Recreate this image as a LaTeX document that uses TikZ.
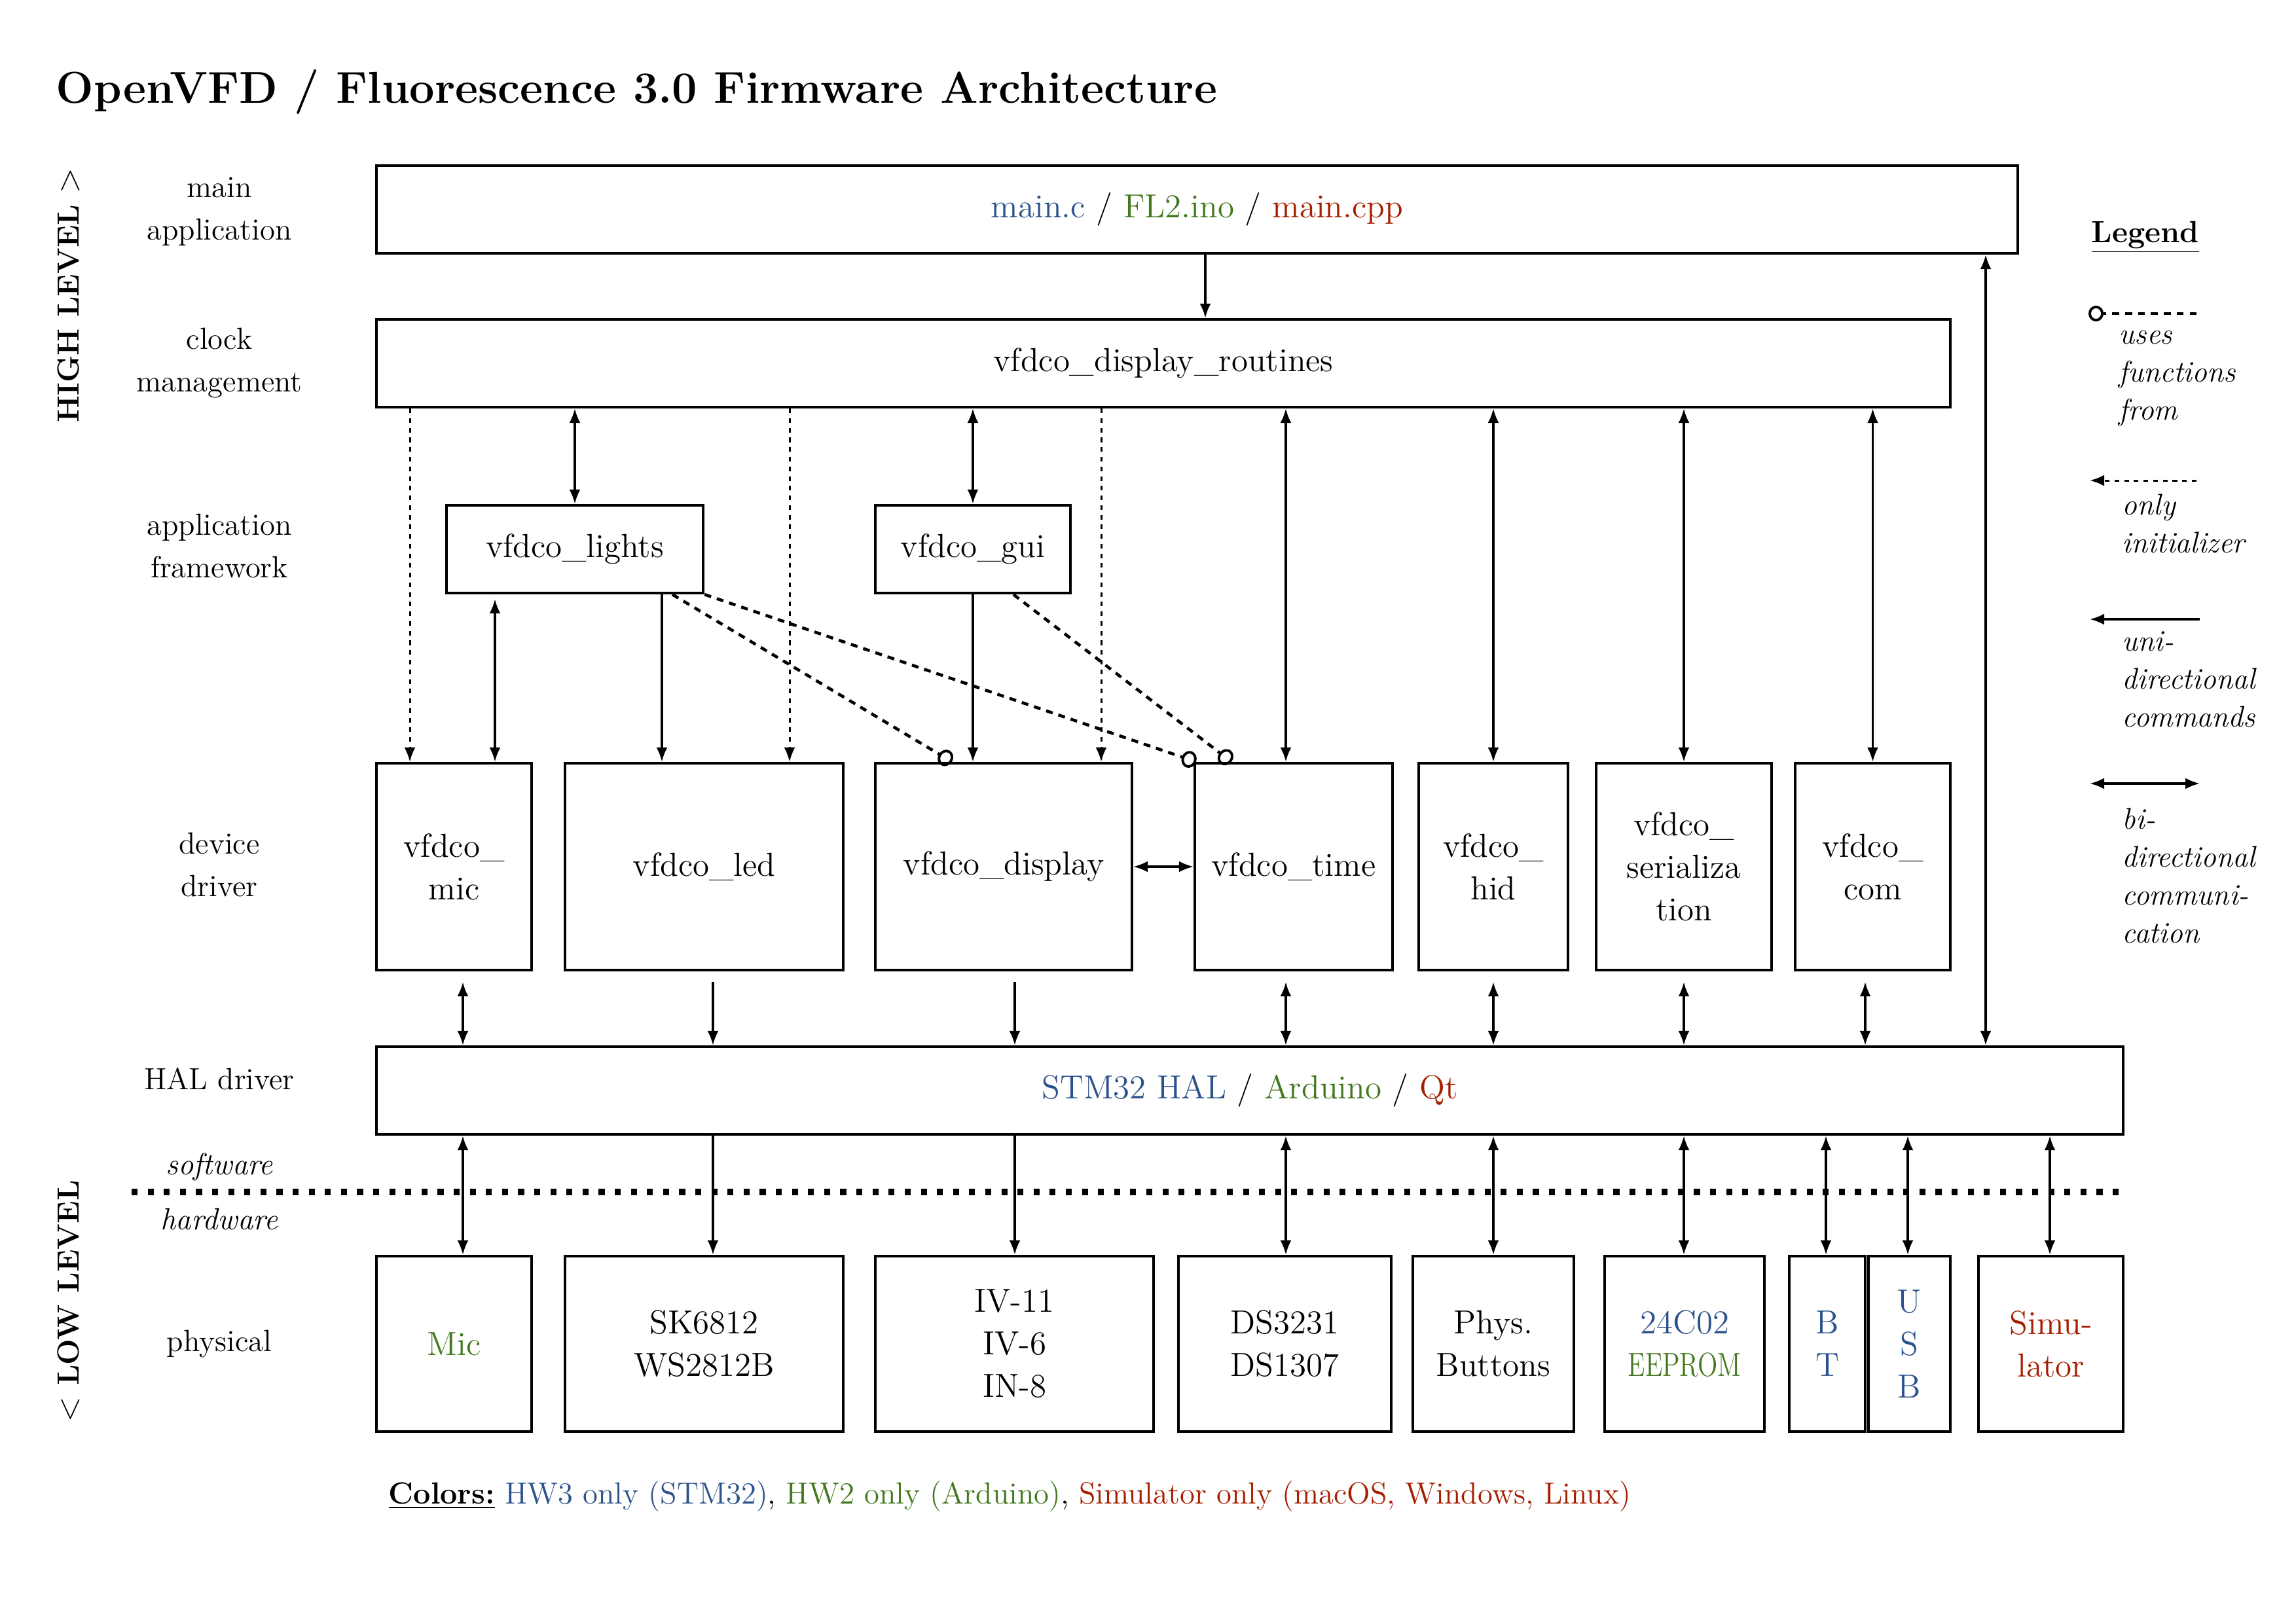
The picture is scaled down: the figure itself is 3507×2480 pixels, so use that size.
\documentclass[tikz,border=0pt]{standalone}
\usepackage{graphicx}
\usetikzlibrary{arrows.meta,calc}
\definecolor{hwthree}{RGB}{44,82,140}
\definecolor{hwtwo}{RGB}{66,120,30}
\definecolor{simred}{RGB}{165,30,0}
\begin{document}
\begin{tikzpicture}[x=0.1mm,y=-0.1mm,
  execute at begin picture={\fontsize{13.3}{18.5}\selectfont},
  box/.style={draw, line width=1.25pt, inner sep=0pt, align=center, font=\fontsize{14.5}{18.5}\selectfont},
  hbox/.style={box, minimum height=13.4mm},
  dbox/.style={box, minimum height=31.6mm},
  pbox/.style={box, minimum height=26.8mm},
  conn/.style={line width=0.9pt},
  tip/.tip={Latex[length=2.2mm,width=1.7mm]},
  uni/.style={conn, -tip},
  bi/.style={conn, tip-tip},
  init/.style={line width=0.85pt, dash pattern=on 2pt off 2.2pt, -tip},
  uses/.style={line width=1.3pt, dash pattern=on 3pt off 2.6pt, -{Circle[open,length=2.3mm,width=2.6mm,line width=1.1pt]}},
  lbl/.style={align=center},
  leg/.style={align=left, font=\fontsize{13}{16.5}\selectfont\itshape, anchor=north west, inner sep=0pt},
  sepline/.style={line width=2.6pt, dash pattern=on 2.6pt off 4.4pt},
]
\useasboundingbox (0,0) rectangle (3507,2480);

% title
\node[anchor=west, inner sep=0pt, font=\fontsize{19.4}{23}\selectfont\bfseries] (title) at (85,140) {OpenVFD / Fluorescence 3.0 Firmware Architecture};

% level labels
\node[rotate=90, font=\bfseries] (high) at (105,451) {HIGH LEVEL $>$};
\node[rotate=90, font=\bfseries] (low) at (105,1988) {$<$ LOW LEVEL};

% left labels
\node[lbl] (lmain) at (335,323) {main\\application};
\node[lbl] (lclock) at (335,555) {clock\\management};
\node[lbl] (lapp) at (335,834) {application\\framework};
\node[lbl] (ldev) at (335,1321) {device\\driver};
\node[lbl] (lhal) at (335,1648) {HAL driver};
\node[lbl, font=\itshape] (lsw) at (335,1783) {software};
\node[lbl, font=\itshape] (lhw) at (335,1862) {hardware};
\node[lbl] (lphys) at (335,2053) {physical};

% boxes
\node[hbox, minimum width=250.7mm] (main) at (1828.5,320) {\textcolor{hwthree}{main.c} / \textcolor{hwtwo}{FL2.ino} / \textcolor{simred}{main.cpp}};
\node[hbox, minimum width=240.4mm] (routines) at (1777,555) {vfdco\_display\_routines};
\node[hbox, minimum width=39.2mm] (lights) at (878,839) {vfdco\_lights};
\node[hbox, minimum width=29.8mm] (gui) at (1486,839) {vfdco\_gui};

\node[dbox, minimum width=23.7mm] (mic) at (693.5,1324) {vfdco\_\\mic};
\node[dbox, minimum width=42.5mm] (led) at (1075.5,1324) {vfdco\_led};
\node[dbox, minimum width=39.2mm] (display) at (1533,1324) {vfdco\_display};
\node[dbox, minimum width=30.2mm] (time) at (1976,1324) {vfdco\_time};
\node[dbox, minimum width=22.8mm] (hid) at (2281,1324) {vfdco\_\\hid};
\node[dbox, minimum width=26.8mm] (serial) at (2572,1324) {vfdco\_\\serializa\\tion};
\node[dbox, minimum width=23.7mm] (com) at (2860.5,1324) {vfdco\_\\com};

\node[hbox, minimum width=266.8mm] (hal) at (1909,1666) {\textcolor{hwthree}{STM32 HAL} / \textcolor{hwtwo}{Arduino} / \textcolor{simred}{Qt}};

\node[pbox, minimum width=23.7mm, text=hwtwo] (pmic) at (693.5,2053) {Mic};
\node[pbox, minimum width=42.5mm] (psk) at (1075.5,2053) {SK6812\\WS2812B};
\node[pbox, minimum width=42.5mm] (piv) at (1549.5,2053) {IV-11\\IV-6\\IN-8};
\node[pbox, minimum width=32.5mm] (pds) at (1962.5,2053) {DS3231\\DS1307};
\node[pbox, minimum width=24.6mm] (pbtn) at (2281,2053) {Phys.\\Buttons};
\node[pbox, minimum width=24.4mm] (peep) at (2573,2053) {\textcolor{hwthree}{24C02}\\\textcolor{hwtwo}{\scalebox{0.78}[1]{EEPROM}}};
\node[pbox, minimum width=11.6mm, text=hwthree] (pbt) at (2791,2053) {B\\T};
\node[pbox, minimum width=12.5mm, text=hwthree] (pusb) at (2916.5,2053) {U\\S\\B};
\node[pbox, minimum width=22.1mm, text=simred] (psim) at (3132.5,2053) {Simu-\\lator};

% column coordinates
\coordinate (xmr) at (1841,0);
\coordinate (xmh) at (3033,0);
\coordinate (xa) at (626,0);
\coordinate (xb) at (1206,0);
\coordinate (xc) at (1682,0);
\coordinate (xt) at (1964,0);
\coordinate (xlm) at (756,0);
\coordinate (xll) at (1011,0);
\coordinate (x1) at (707,0);
\coordinate (x2) at (1089,0);
\coordinate (x3) at (1550,0);
\coordinate (x7) at (2849,0);
\coordinate (xbt) at (2789,0);
\coordinate (xusb) at (2914,0);
\coordinate (xsim) at (3131,0);
\coordinate (d1s) at (1027,0);
\coordinate (d1e) at (1454,0);
\coordinate (d2e) at (1827,0);
\coordinate (d3s) at (1548,0);
\coordinate (d3e) at (1881,0);

% main level
\draw[uni] (main.south -| xmr) -- (routines.north -| xmr);
\draw[bi] (main.south -| xmh) -- (hal.north -| xmh);

% routines to lower
\draw[init] (routines.south -| xa) -- (mic.north -| xa);
\draw[init] (routines.south -| xb) -- (led.north -| xb);
\draw[init] (routines.south -| xc) -- (display.north -| xc);
\draw[bi] (routines.south -| lights) -- (lights.north);
\draw[bi] (routines.south -| gui) -- (gui.north);
\draw[bi] (routines.south -| xt) -- (time.north -| xt);
\draw[bi] (routines.south -| hid) -- (hid.north);
\draw[bi] (routines.south -| serial) -- (serial.north);
\draw[bi] (routines.south -| com) -- (com.north);

% app framework to drivers
\draw[bi, shorten <=0.7mm] (lights.south -| xlm) -- (mic.north -| xlm);
\draw[uni] (lights.south -| xll) -- (led.north -| xll);
\draw[uni] (gui.south) -- (gui.south |- display.north);
\draw[bi] (display.east) -- (time.west);
\draw[uses] (lights.south -| d1s) -- (display.north -| d1e);
\draw[uses] (lights.south east) -- (time.north -| d2e);
\draw[uses] (gui.south -| d3s) -- (time.north -| d3e);

% drivers to HAL
\draw[bi, shorten <=1.6mm] (mic.south -| x1) -- (hal.north -| x1);
\draw[uni, shorten <=1.6mm] (led.south -| x2) -- (hal.north -| x2);
\draw[uni, shorten <=1.6mm] (display.south -| x3) -- (hal.north -| x3);
\draw[bi, shorten <=1.6mm] (time.south -| xt) -- (hal.north -| xt);
\draw[bi, shorten <=1.6mm] (hid.south) -- (hal.north -| hid);
\draw[bi, shorten <=1.6mm] (serial.south) -- (hal.north -| serial);
\draw[bi, shorten <=1.6mm] (com.south -| x7) -- (hal.north -| x7);

% HAL to physical
\draw[bi] (hal.south -| x1) -- (pmic.north -| x1);
\draw[uni] (hal.south -| x2) -- (psk.north -| x2);
\draw[uni] (hal.south -| x3) -- (piv.north -| x3);
\draw[bi] (hal.south -| xt) -- (pds.north -| xt);
\draw[bi] (hal.south -| pbtn) -- (pbtn.north);
\draw[bi] (hal.south -| serial) -- (peep.north -| serial);
\draw[bi] (hal.south -| xbt) -- (pbt.north -| xbt);
\draw[bi] (hal.south -| xusb) -- (pusb.north -| xusb);
\draw[bi] (hal.south -| xsim) -- (psim.north -| xsim);

% software / hardware separator
\coordinate (sepL) at (201,1821);
\draw[sepline] (sepL) -- (sepL -| hal.east);

% legend
\node[font=\bfseries] (legtitle) at (3277,362) {\underline{Legend}};
\coordinate (lg1a) at (3190,479);
\coordinate (lg1b) at (3355,479);
\draw[line width=0.9pt, dash pattern=on 3pt off 2.6pt, -{Circle[open,length=2.3mm,width=2.4mm,line width=1.1pt]}] (lg1b) -- (lg1a);
\node[leg] (leg1) at (3236,505) {uses\\functions\\from};
\coordinate (lg2a) at (3192,734);
\coordinate (lg2b) at (3355,734);
\draw[init] (lg2b) -- (lg2a);
\node[leg] (leg2) at (3241,754) {only\\initializer};
\coordinate (lg3a) at (3192,946);
\coordinate (lg3b) at (3360,946);
\draw[uni] (lg3b) -- (lg3a);
\node[leg] (leg3) at (3241,964) {uni-\\directional\\commands};
\coordinate (lg4a) at (3192,1197);
\coordinate (lg4b) at (3360,1197);
\draw[bi] (lg4a) -- (lg4b);
\node[leg] (leg4) at (3241,1234) {bi-\\directional\\communi-\\cation};

% colors note
\node[anchor=west, inner sep=0pt] (colors) at (593,2286) {\underline{\textbf{Colors:}} \textcolor{hwthree}{HW3 only (STM32)}, \textcolor{hwtwo}{HW2 only (Arduino)}, \textcolor{simred}{Simulator only (macOS, Windows, Linux)}};
\end{tikzpicture}
\end{document}
